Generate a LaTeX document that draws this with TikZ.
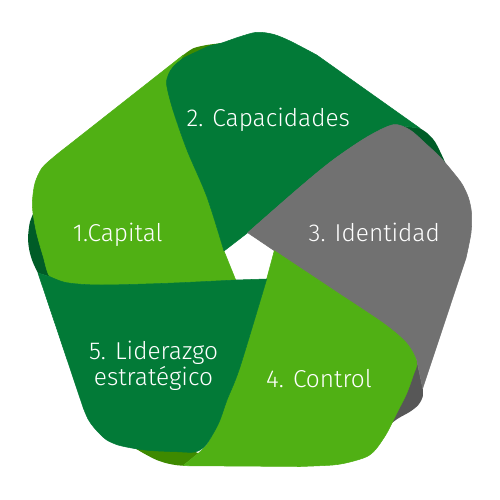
\documentclass[tikz,border=0pt]{standalone}
\usepackage{fontspec}
\setmainfont{Fira Sans}[UprightFont=* Light]
\definecolor{bandlight}{HTML}{50B014}
\definecolor{banddark}{HTML}{027A37}
\definecolor{bandgray}{HTML}{717171}
\definecolor{foldolive}{HTML}{3E8A00}
\definecolor{folddark}{HTML}{005C27}
\definecolor{foldgray}{HTML}{575757}
\tikzset{
  band/.style={fill=#1, draw=#1, line width=0.3pt, line join=round},
  fold/.style={fill=#1},
  bandtext/.style={text=white, inner sep=0pt, font=\fontsize{13.9}{15}\selectfont}
}

\begin{document}
\begin{tikzpicture}[x=0.2mm, y=-0.2mm]
  \useasboundingbox (0,0) rectangle (500,500);
  % corners of the white pentagon in the middle
  \coordinate (wt) at (247.7,232.7);
  \coordinate (wr) at (274.3,250.7);
  \coordinate (wbr) at (266.7,279);
  \coordinate (wbl) at (235.7,280);
  \coordinate (wl) at (224,251);

  % backs of the bands, seen where they fold under the next one
  \path[fold=foldolive] (166.7,81.7) -- (183.3,55)
    -- plot[smooth] coordinates {(183.3,55) (193.3,48.3) (206.7,45) (221,43.2)} -- (215,70) -- cycle;
  \path[fold=folddark] (393.3,124.7) -- (420,128.3)
    -- plot[smooth] coordinates {(420,128.3) (427,133) (435,141.7) (443.3,158.3) (446.7,167) (448,173)} -- (420,170) -- cycle;
  \path[fold=foldgray] (416.7,360) -- (422.7,388.3)
    -- plot[smooth] coordinates {(422.7,388.3) (422.7,396.7) (418.3,405) (410,411.7) (398.3,418.3) (390,424.5)} -- (395,400) -- cycle;
  \path[fold=foldolive] (198.3,453.3) -- (183,465.7)
    -- plot[smooth] coordinates {(183,465.7) (176.7,465.2) (166.7,463.3) (156.7,460) (146.7,455) (135,448.3) (127,443.5)} -- (170,440) -- cycle;
  \path[fold=folddark] (50,276.7) -- (38,273)
    -- plot[smooth] coordinates {(38,273) (33.3,263.3) (30,253.3) (28.3,243.3) (28.3,233.3) (30,221.7) (33.3,213.3) (35,208)} -- (55,240) -- cycle;

  % front faces of the five bands
  \path[band=bandlight] (wbl)
    -- plot[smooth] coordinates {(235.7,280) (166.7,283.3) (100,285) (66.7,282.7) (50,276.7) (43.3,256.7) (36.7,233.3) (33,213) (32.5,200) (35,183) (42,168) (55,156) (66.7,146.7)}
    -- (183.3,55)
    -- plot[smooth] coordinates {(166.7,81.7) (173,110) (187,150) (207,197) (224,251)} -- cycle;
  \path[band=banddark] (wl)
    -- plot[smooth] coordinates {(224,251) (207,197) (187,150) (173,110) (166.7,85) (168.3,75) (173.3,66.7) (183.3,58.3) (196.7,51.7) (210,45.7) (221,43.2) (240,36.7) (256.7,32.3) (273.3,34.3) (290,41) (316.7,55)}
    -- (420,128.3)
    -- plot[smooth] coordinates {(393.3,124.7) (367,137) (333,160) (300,187) (247.7,232.7)} -- cycle;
  \path[band=bandgray] (wt)
    -- plot[smooth] coordinates {(247.7,232.7) (300,187) (333,160) (367,137) (393.3,124.7) (410,130) (425,143) (440,157) (452,171) (462,184) (468.5,198) (471.5,213) (471,233) (466,258)}
    -- (422.7,388.3)
    -- plot[smooth] coordinates {(416.7,360) (406.7,343.3) (383.3,323.3) (333.3,290) (274.3,250.7)} -- cycle;
  \path[band=bandlight] (wr)
    -- plot[smooth] coordinates {(274.3,250.7) (333.3,290) (383.3,323.3) (406.7,343.3) (416.7,362) (413.3,375) (406.7,393.3) (396.7,413.3) (386.7,433.3) (376,449) (366.7,456.7) (350,462) (333,465) (300,466.5)}
    -- (183,465.7)
    -- plot[smooth] coordinates {(198.3,453.3) (206.7,445) (213.3,433.3) (220,420) (227,400) (240,367) (266.7,279)} -- cycle;
  \path[band=banddark] (wbl) -- (wbr)
    -- plot[smooth] coordinates {(266.7,279) (240,367) (227,400) (220,420) (213.3,433.3) (205,446) (195,452) (176.7,451.7) (150,450.5) (133.3,448.3) (118,445) (106.7,440) (100,434) (93.3,426.7) (88,419) (83.3,408)}
    -- (38,273)
    -- plot[smooth] coordinates {(50,276.7) (66.7,282.7) (100,285) (166.7,283.3) (235.7,280)} -- cycle;

  % names of the bands
  \node[bandtext, anchor=base] (capital) at (117.8,241.7) {1.Capital};
  \node[bandtext, anchor=base] (capacidades) at (268.3,126) {2. Capacidades};
  \node[bandtext, anchor=base] (identidad) at (374.3,241.7) {3. Identidad};
  \node[bandtext, anchor=base] (control) at (319,387.3) {4. Control};
  \node[bandtext, align=center] (liderazgo) at (153.5,366) {5. Liderazgo\\estratégico};
\end{tikzpicture}
\end{document}
